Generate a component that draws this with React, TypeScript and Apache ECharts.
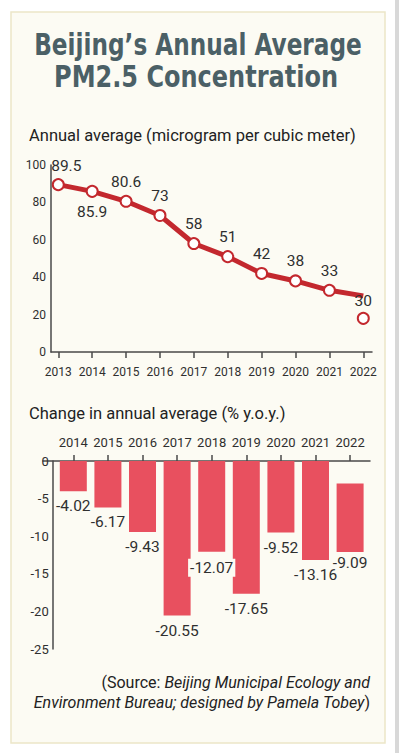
import React, { useEffect, useRef } from "react";
import * as echarts from "echarts";

const years = [2013, 2014, 2015, 2016, 2017, 2018, 2019, 2020, 2021, 2022];
const pm25 = [89.5, 85.9, 80.6, 73, 58, 51, 42, 38, 33, 30];
const pm25Ticks = [0, 20, 40, 60, 80, 100];
// the 2022 circle is drawn lower than the line's end in the original
const markerYears = [2022];
const markerValues = [18];

const changeYears = [2014, 2015, 2016, 2017, 2018, 2019, 2020, 2021, 2022];
const changeValues = [-4.02, -6.17, -9.43, -20.55, -12.07, -17.65, -9.52, -13.16, -9.09];
// where each drawn bar starts (the 2022 bar floats in the original)
const changeStarts = [0, 0, 0, 0, 0, 0, 0, 0, -3];
const changeTicks = [0, -5, -10, -15, -20, -25];

const FONT = "Roboto";
const TXT = "#2f2f2f";
const AXIS = "#4a4a4a";
const LINE_RED = "#c3282e";
const BAR_RED = "#e8505f";
const PANEL = "#fcfbf3";
const TITLE_FONT = "bold 30px 'DejaVu Sans Condensed', 'Liberation Sans Narrow', Roboto";

export default function App() {
  const ref = useRef<HTMLDivElement>(null);
  useEffect(() => {
    if (!ref.current) return;
    const chart = echarts.init(ref.current, null, { renderer: "svg" });

    const lineLabelCfg = (i: number) => {
      if (i === 0) return { position: "top", distance: 4, offset: [8, 0] };
      if (i === 1) return { position: "bottom", distance: 6 };
      if (i === pm25.length - 1) return { position: "inside", offset: [0, 5] };
      return { position: "top", distance: 5 };
    };

    const option: any = {
      animation: false,
      backgroundColor: "#ffffff",
      textStyle: { fontFamily: FONT },
      graphic: [
        { type: "rect", z: -10, shape: { x: 11, y: 12, width: 374, height: 731 }, style: { fill: PANEL, stroke: "#ebe6c8", lineWidth: 1.5 } },
        { type: "rect", z: -10, shape: { x: 395, y: 0, width: 4, height: 753 }, style: { fill: "#d8d8d8" } },
        { type: "text", x: 198, y: 45, scaleX: 0.86, style: { text: "Beijing\u2019s Annual Average", font: TITLE_FONT, fill: "#4b6066", align: "center", verticalAlign: "middle" } },
        { type: "text", x: 196, y: 77, scaleX: 0.89, style: { text: "PM2.5 Concentration", font: TITLE_FONT, fill: "#4b6066", align: "center", verticalAlign: "middle" } },
        { type: "text", x: 29, y: 135, style: { text: "Annual average (microgram per cubic meter)", font: `16.5px ${FONT}`, fill: "#222", align: "left", verticalAlign: "middle" } },
        { type: "text", x: 29, y: 413, style: { text: "Change in annual average (% y.o.y.)", font: `16.5px ${FONT}`, fill: "#222", align: "left", verticalAlign: "middle" } },
        {
          type: "text", x: 370, y: 682,
          style: {
            text: "{n|(Source: }{i|Beijing Municipal Ecology and}",
            align: "right", verticalAlign: "middle", fill: "#222",
            rich: { n: { fontSize: 16, fontFamily: FONT, fill: "#222" }, i: { fontSize: 16, fontFamily: FONT, fontStyle: "italic", fill: "#222" } },
          },
        },
        {
          type: "text", x: 370, y: 702,
          style: {
            text: "{i|Environment Bureau; designed by Pamela Tobey}{n|)}",
            align: "right", verticalAlign: "middle", fill: "#222",
            rich: { n: { fontSize: 16, fontFamily: FONT, fill: "#222" }, i: { fontSize: 16, fontFamily: FONT, fontStyle: "italic", fill: "#222" } },
          },
        },
      ],
      grid: [
        { left: 51, right: 27, top: 165, bottom: 401 },
        { left: 43, right: 29, top: 461, bottom: 104 },
      ],
      xAxis: [
        {
          gridIndex: 0, type: "value", min: 2012.785, max: 2022.257,
          splitLine: { show: false },
          axisLine: { show: true, lineStyle: { color: AXIS, width: 1.5 } },
          axisTick: { show: true, length: 6, customValues: years, lineStyle: { color: AXIS, width: 1.5 } },
          axisLabel: { customValues: years, margin: 14, fontSize: 12, color: TXT, fontFamily: FONT, formatter: (v: number) => String(v) },
        },
        {
          gridIndex: 1, type: "value", position: "top", min: 2013.124, max: 2022.575,
          splitLine: { show: false },
          axisLine: { show: true, onZero: false, lineStyle: { color: AXIS, width: 1.5 } },
          axisTick: { show: true, length: 6, customValues: changeYears, lineStyle: { color: AXIS, width: 1.5 } },
          axisLabel: { customValues: changeYears, margin: 12, fontSize: 13, color: TXT, fontFamily: FONT, formatter: (v: number) => String(v) },
        },
      ],
      yAxis: [
        {
          gridIndex: 0, type: "value", min: 0, max: 100, interval: 20,
          splitLine: { show: false },
          axisLine: { show: true, lineStyle: { color: AXIS, width: 1.5 } },
          axisTick: { show: false },
          axisLabel: { margin: 5, fontSize: 12, color: TXT, fontFamily: FONT, customValues: pm25Ticks },
        },
        {
          gridIndex: 1, type: "value", min: -25, max: 0, interval: 5, offset: -9.7,
          splitLine: { show: false },
          axisLine: { show: true, onZero: false, lineStyle: { color: AXIS, width: 1.5 } },
          axisTick: { show: false },
          axisLabel: { margin: 4, fontSize: 13, color: TXT, fontFamily: FONT, customValues: changeTicks },
        },
      ],
      series: [
        {
          type: "line", xAxisIndex: 0, yAxisIndex: 0,
          data: years.map((y, i) => ({
            value: [y, pm25[i]],
            symbol: "circle",
            symbolSize: i === years.length - 1 ? 1 : 11,
            itemStyle: i === years.length - 1 ? { color: "rgba(0,0,0,0)", borderWidth: 0 } : undefined,
            label: lineLabelCfg(i),
          })),
          lineStyle: { color: LINE_RED, width: 5 },
          itemStyle: { color: "#ffffff", borderColor: LINE_RED, borderWidth: 2 },
          label: { show: true, fontSize: 15.5, color: TXT, fontFamily: FONT, formatter: (p: any) => String(p.value[1]) },
          z: 3,
        },
        {
          type: "scatter", xAxisIndex: 0, yAxisIndex: 0,
          data: markerYears.map((y, i) => [y, markerValues[i]]),
          symbol: "circle", symbolSize: 11,
          itemStyle: { color: "#ffffff", borderColor: LINE_RED, borderWidth: 2, opacity: 1 },
          z: 4,
        },
        {
          type: "custom", xAxisIndex: 1, yAxisIndex: 1,
          data: changeYears.map((y, i) => [y, changeStarts[i], changeValues[i]]),
          encode: { x: 0, y: [1, 2] },
          renderItem: (params: any, api: any) => {
            const x = api.value(0);
            const s = api.value(1);
            const v = api.value(2);
            const p0 = api.coord([x, s]);
            const p1 = api.coord([x, s + v]);
            const w = 27;
            const idx = params.dataIndex;
            return {
              type: "rect",
              shape: { x: p0[0] - w / 2, y: p0[1], width: w, height: p1[1] - p0[1] },
              style: { fill: BAR_RED },
              textContent: {
                style: {
                  text: String(v), fontSize: 15.5, fontFamily: FONT, fill: TXT,
                  backgroundColor: idx === 4 ? PANEL : undefined,
                  padding: idx === 4 ? [1, 2] : 0,
                },
              },
              textConfig: { position: "bottom", distance: idx === 8 ? 3 : 7 },
            };
          },
          z: 2,
        },
      ],
    };
    chart.setOption(option);
    return () => chart.dispose();
  }, []);
  return <div ref={ref} style={{ position: "absolute", left: 0, top: 0, width: 399, height: 753 }} />;
}
